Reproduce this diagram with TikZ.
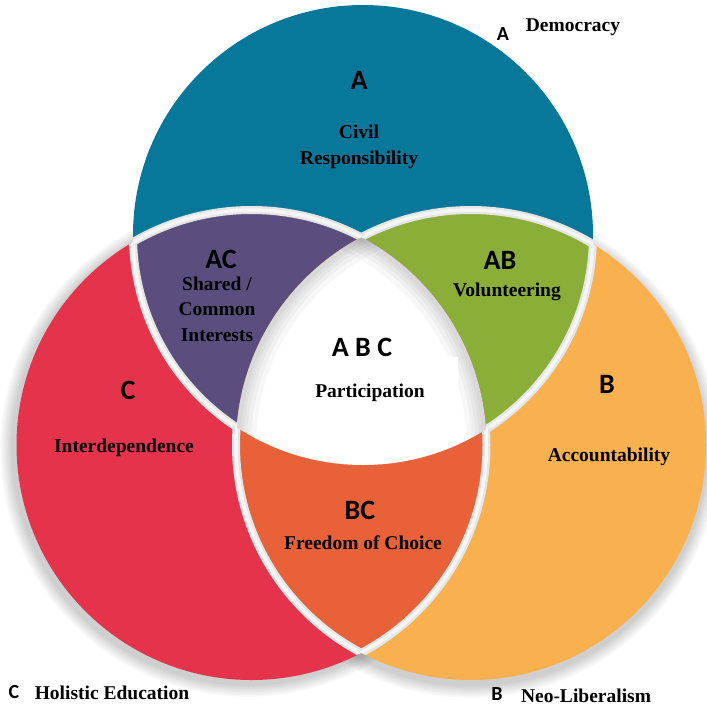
\documentclass[tikz,border=0pt]{standalone}
\usepackage{fontspec}
\setmainfont{Liberation Serif}
\newfontfamily\labfont{Carlito}
\definecolor{cblue}{HTML}{07779A}
\definecolor{cred}{HTML}{E5334B}
\definecolor{corange}{HTML}{F9B04F}
\definecolor{cpurple}{HTML}{5B4E7E}
\definecolor{cgreen}{HTML}{8AAE38}
\definecolor{cbc}{HTML}{E86139}
\begin{document}
\begin{tikzpicture}[x=1pt,y=-1pt,
  lbl/.style={font=\labfont\bfseries\fontsize{28}{30}\selectfont, inner sep=0pt},
  slbl/.style={font=\labfont\bfseries\fontsize{20}{22}\selectfont, inner sep=0pt},
  desc/.style={font=\bfseries\fontsize{19.5}{25.5}\selectfont, align=center, inner sep=0pt},
  bandout/.style={draw=gray!20, line width=8pt},
  bandin/.style={draw=gray!7, line width=3.5pt}]
\def\pA{(363,235) circle (230pt)}
\def\pB{(471,445) circle (235pt)}
\def\pC{(251.5,445) circle (235pt)}
\useasboundingbox (0,0) rectangle (707,713);
\fill[white] (0,0) rectangle (707,713);
% soft shadows
\foreach \k in {1,...,8} {
  \pgfmathsetlengthmacro{\rr}{235pt+\k*1.6pt}
  \fill[black, opacity=0.022] (248,449) circle (\rr);
  \fill[black, opacity=0.022] (471,450) circle (\rr);
}
% circle fills
\fill[cblue] \pA;
\fill[cred] \pC;
\fill[corange] \pB;
\begin{scope}
  \clip \pA;
  \fill[cpurple] \pC;
  \fill[cgreen] \pB;
\end{scope}
\begin{scope}
  \clip \pB;
  \fill[cbc] \pC;
\end{scope}
\begin{scope}
  \clip \pA; \clip \pB; \clip \pC;
  \fill[white] (0,0) rectangle (707,713);
  \foreach \w in {40,30,22,15,9} {
    \draw[black, opacity=0.03, line width=\w pt] \pB;
    \draw[black, opacity=0.03, line width=\w pt] \pC;
  }
  \fill[white] (300,357) rectangle (458,393);
\end{scope}
% separating bands
\begin{scope}[even odd rule]
  \clip \pB \pC;
  \draw[bandout] \pA; \draw[bandin] \pA;
\end{scope}
\begin{scope}[even odd rule]
  \clip \pA \pC;
  \draw[bandout] \pB; \draw[bandin] \pB;
\end{scope}
\begin{scope}[even odd rule]
  \clip \pA \pB;
  \draw[bandout] \pC; \draw[bandin] \pC;
\end{scope}
% texts
\node[lbl] (tA) at (359,80) {A};
\node[desc] (dA) at (359,147) {Civil\\Responsibility};
\node[lbl] (tAC) at (221,259) {AC};
\node[desc] (dAC) at (217,309) {Shared /\\Common\\Interests};
\node[lbl] (tAB) at (500,260) {AB};
\node[desc] (dAB) at (507,292) {Volunteering};
\node[lbl] (tABC) at (362,347) {A B C};
\node[desc] (dABC) at (370,393) {Participation};
\node[lbl] (tC) at (128,390) {C};
\node[desc] (dC) at (124,448) {Interdependence};
\node[lbl] (tB) at (607,384) {B};
\node[desc] (dB) at (609,457) {Accountability};
\node[lbl] (tBC) at (360,510) {BC};
\node[desc] (dBC) at (363,543) {Freedom of Choice};
\node[slbl] (sA) at (503,34) {A};
\node[desc] (nA) at (573,27) {Democracy};
\node[slbl] (sC) at (14,692) {C};
\node[desc] (nC) at (112,693) {Holistic Education};
\node[slbl] (sB) at (497,694) {B};
\node[desc] (nB) at (586,696) {Neo-Liberalism};
\end{tikzpicture}
\end{document}
